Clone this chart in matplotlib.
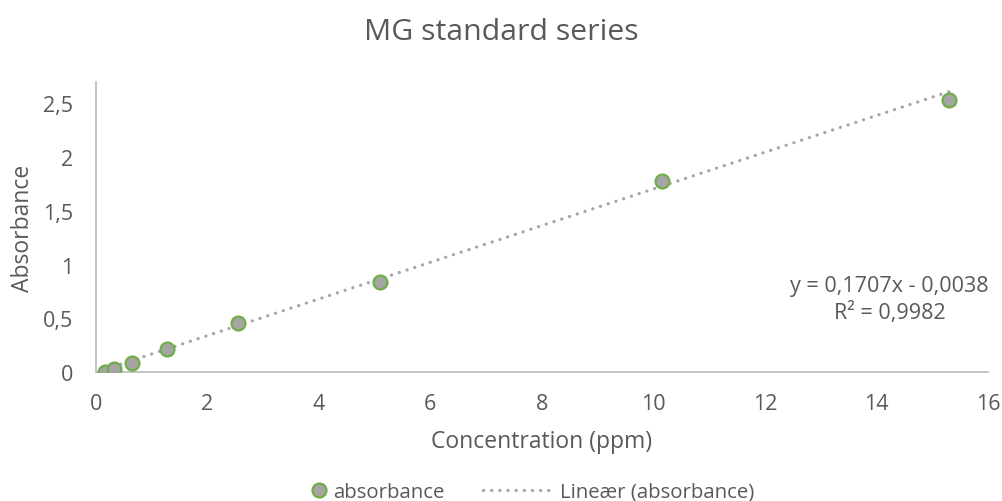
import matplotlib
matplotlib.use('Agg')

import matplotlib.pyplot as plt
import numpy as np
from matplotlib.ticker import FuncFormatter

# data
conc = [0.17, 0.33, 0.645, 1.27, 2.55, 5.09, 10.15, 15.3]
absorbance = [0.003, 0.028, 0.08, 0.21, 0.455, 0.834, 1.78, 2.53]
slope = 0.1707
intercept = -0.0038
r2 = 0.9982

plt.rcParams['font.family'] = ['Open Sans', 'DejaVu Sans']
txt = '#595959'

fig = plt.figure(figsize=(10.03, 5.02), dpi=100)
ax = fig.add_axes([0.0954, 0.257, 0.8896, 0.578])

xs = np.array([min(conc), max(conc)])
trend, = ax.plot(xs, slope * xs + intercept, color='#a5a5a5', linestyle=(0, (0.05, 2.5)),
                 linewidth=2.3, dash_capstyle='round', zorder=2)
pts, = ax.plot(conc, absorbance, linestyle='none', marker='o', markersize=10,
               markerfacecolor='#a5a5a5', markeredgecolor='#70ad47', markeredgewidth=1.6,
               zorder=3)

ax.set_xlim(0, 16)
ax.set_ylim(0, 2.7)
ax.set_xticks(np.arange(0, 17, 2))
ax.set_yticks([0, 0.5, 1, 1.5, 2, 2.5])
fmt = FuncFormatter(lambda v, p: ('%g' % v).replace('.', ','))
ax.xaxis.set_major_formatter(fmt)
ax.yaxis.set_major_formatter(fmt)
ax.tick_params(length=0, labelsize=15.5, colors=txt)
ax.tick_params(axis='x', pad=15)
ax.tick_params(axis='y', pad=16)

for s in ['top', 'right']:
    ax.spines[s].set_visible(False)
for s in ['left', 'bottom']:
    ax.spines[s].set_color('#bfbfbf')
    ax.spines[s].set_linewidth(1.3)

ax.set_xlabel('Concentration (ppm)', fontsize=16.5, color=txt, labelpad=11)
ax.set_ylabel('Absorbance', fontsize=16.5, color=txt, labelpad=6)
fig.suptitle('MG standard series', fontsize=21.8, color=txt, y=0.965)

eq = 'y = %sx - %s\nR² = %s' % (('%.4f' % slope).replace('.', ','),
                                 ('%.4f' % -intercept).replace('.', ','),
                                 ('%.4f' % r2).replace('.', ','))
ax.text(0.89, 0.25, eq, transform=ax.transAxes, ha='center', va='center',
        multialignment='center', fontsize=15.5, color=txt, linespacing=1.3)

# two legends so the marker handle can be short and the line handle long
leg1 = fig.legend([pts], ['absorbance'], loc='center left', bbox_to_anchor=(0.309, 0.018),
                  frameon=False, fontsize=14.7, labelcolor=txt, handlelength=0.9,
                  handletextpad=0.25, borderpad=0, borderaxespad=0)
leg2 = fig.legend([trend], ['Lineær (absorbance)'], loc='center left', bbox_to_anchor=(0.4815, 0.018),
                  frameon=False, fontsize=14.7, labelcolor=txt, handlelength=3.5,
                  handletextpad=0.25, borderpad=0, borderaxespad=0)

plt.savefig('out.png', dpi=100)
